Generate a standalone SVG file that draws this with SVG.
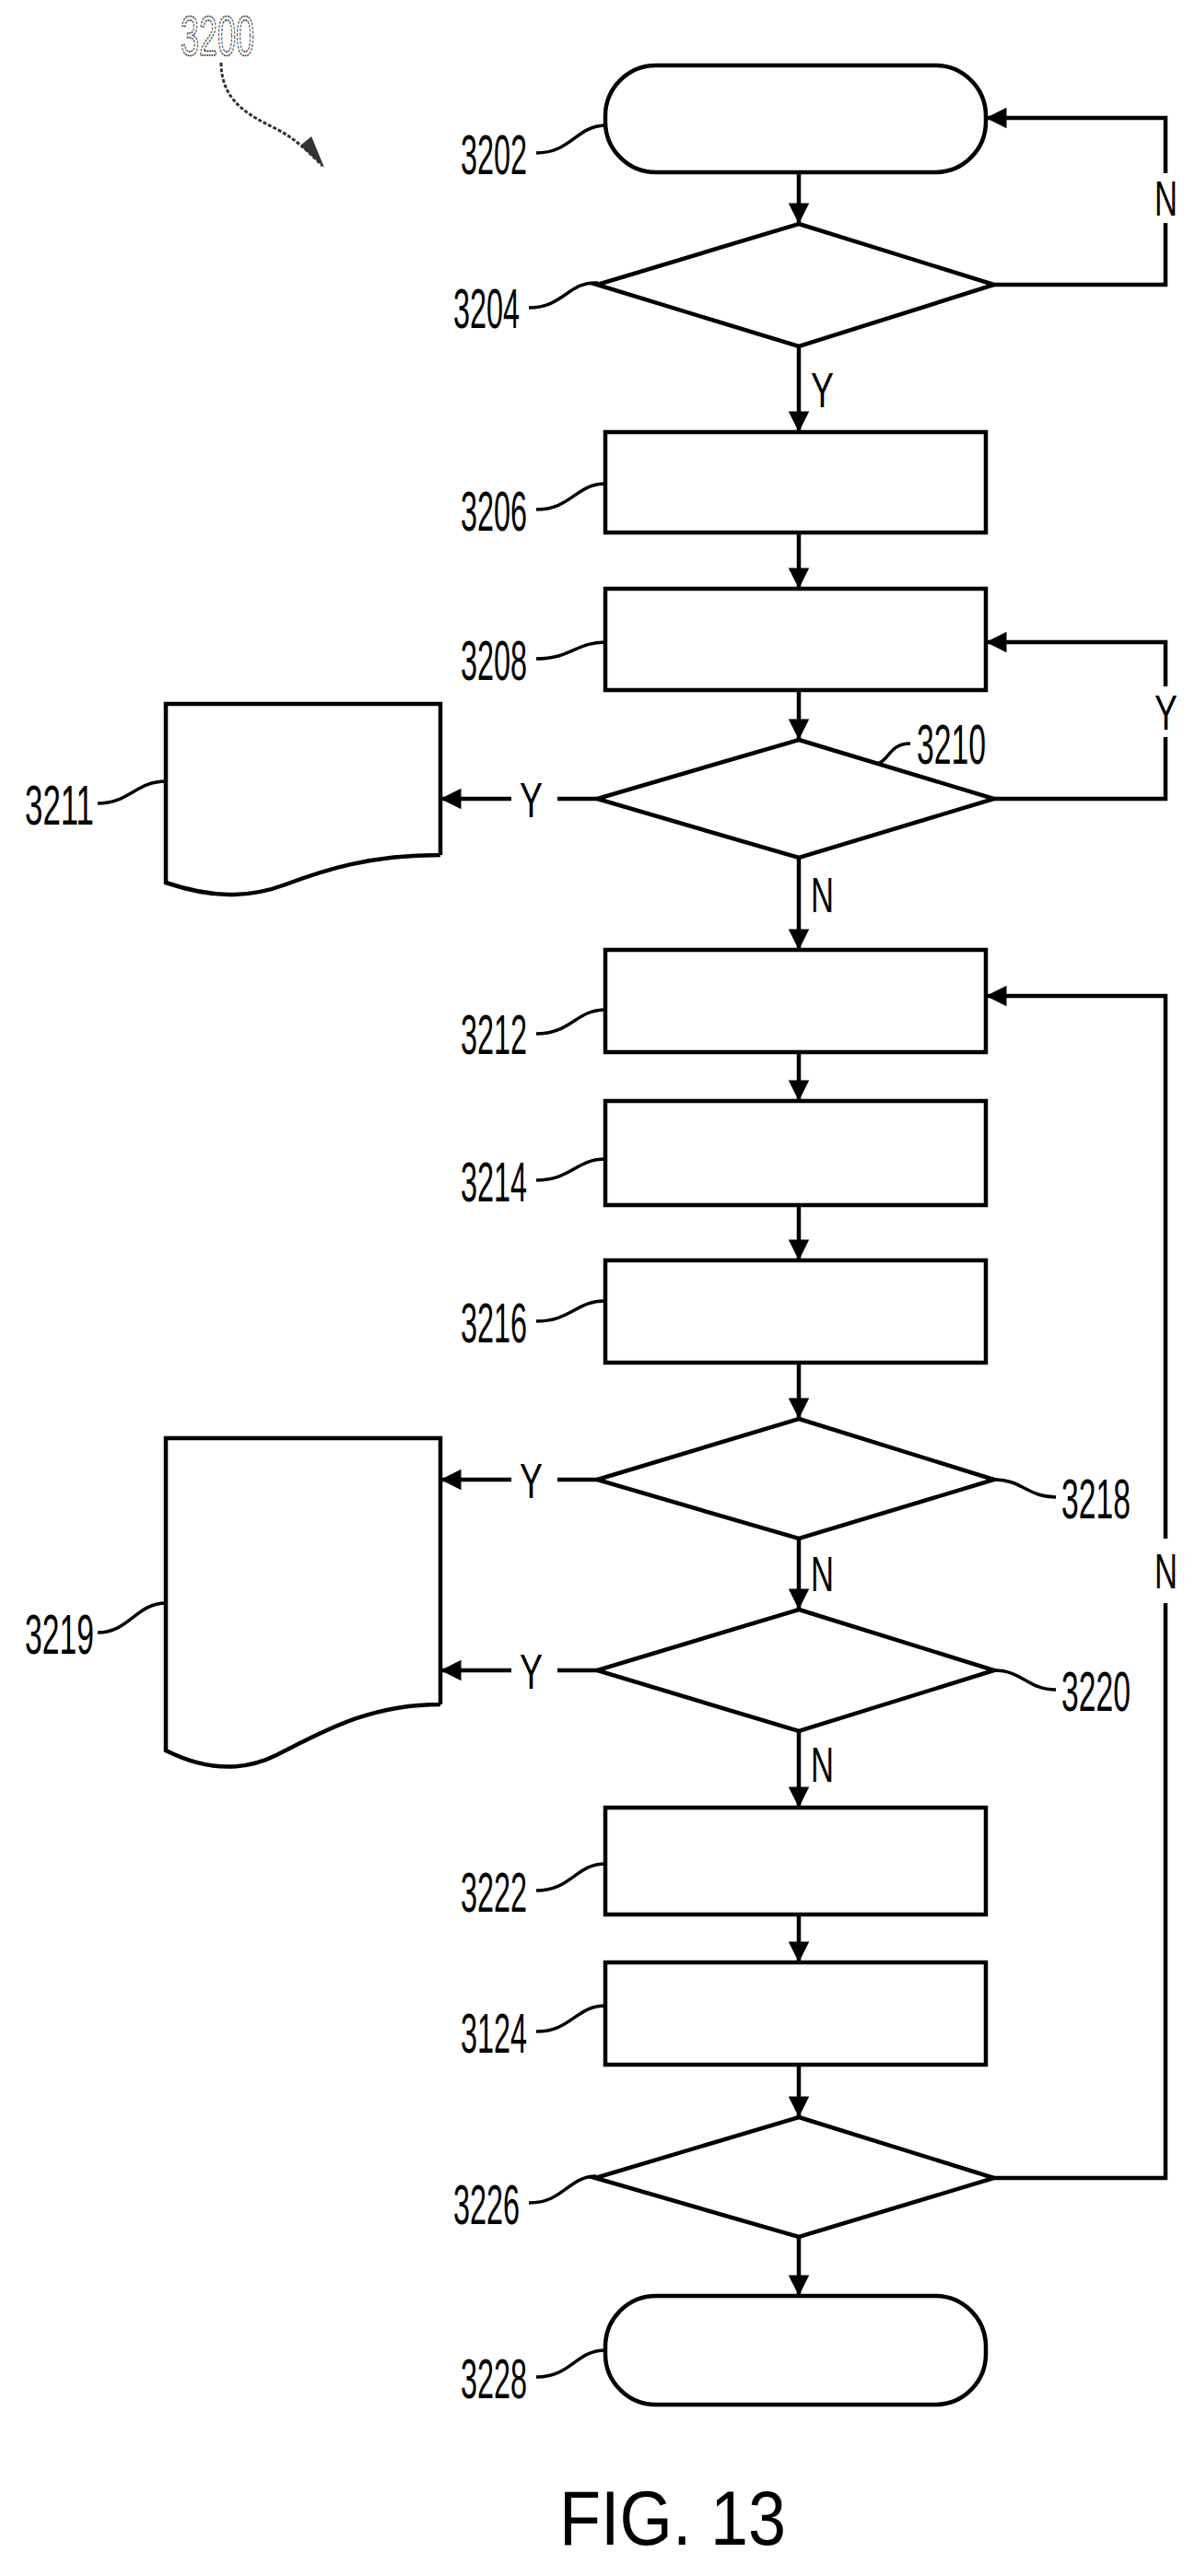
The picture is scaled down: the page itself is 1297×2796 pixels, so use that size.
<svg xmlns="http://www.w3.org/2000/svg" width="1297" height="2796" viewBox="0 0 1297 2796">
<style>
.s{fill:none;stroke:#000;stroke-width:4.5;stroke-linejoin:miter}
.l{fill:none;stroke:#000;stroke-width:3.5}
.t{font-family:"Liberation Sans",Arial,sans-serif;font-size:62px;fill:#000}
.yn{font-family:"Liberation Sans",Arial,sans-serif;font-size:54px;fill:#000}
</style>
<defs>
<marker id="a" viewBox="0 0 10 10" refX="10" refY="5" markerWidth="6" markerHeight="5" markerUnits="strokeWidth" orient="auto"><path d="M0,0L10,5L0,10z" fill="#000"/></marker>
</defs>
<rect width="1297" height="2796" fill="#fff"/>
<g id="n3200">
<text class="t" x="196" y="60" textLength="80" lengthAdjust="spacingAndGlyphs" style="fill:#fff;stroke:#333;stroke-width:1.6;stroke-dasharray:3 1.5">3200</text>
<path d="M240,68 C240,110 270,125 300,140 C320,150 335,165 350,180" fill="none" stroke="#333" stroke-width="3" stroke-dasharray="4 2"/>
<path d="M326,158 L352,182 L338,148 Z" fill="#333"/>
</g>
<g id="n3202"><rect class="s" x="657" y="71" width="413" height="116" rx="55"/><text class="t" x="500" y="189" textLength="72" lengthAdjust="spacingAndGlyphs">3202</text><path class="l" d="M582,166 C620,166 625,137 657,136"/></g>
<g id="n3204"><path class="s" d="M867,243 L1079,309 L867,376 L648,309 Z"/><text class="t" x="492" y="356" textLength="72" lengthAdjust="spacingAndGlyphs">3204</text><path class="l" d="M574,334 C612,334 617,305 649,307"/></g>
<g id="n3206"><rect class="s" x="657" y="469" width="413" height="109"/><text class="t" x="500" y="576" textLength="72" lengthAdjust="spacingAndGlyphs">3206</text><path class="l" d="M582,553 C620,553 625,525 657,525"/></g>
<g id="n3208"><rect class="s" x="657" y="639" width="413" height="110"/><text class="t" x="500" y="738" textLength="72" lengthAdjust="spacingAndGlyphs">3208</text><path class="l" d="M582,715 C620,715 625,697 657,697"/></g>
<g id="n3210"><path class="s" d="M867,803 L1079,867 L867,931 L648,867 Z"/><text class="t" x="995" y="829" textLength="75" lengthAdjust="spacingAndGlyphs">3210</text><path class="l" d="M988,807 C965,807 965,826 952,829"/></g>
<g id="n3211"><path class="s" d="M478,928 V764 H180 V958 C230,975 270,975 310,960 C350,945 400,928 478,928"/><text class="t" x="27" y="895" textLength="75" lengthAdjust="spacingAndGlyphs">3211</text><path class="l" d="M106,872 C140,872 148,848 180,848"/></g>
<g id="n3212"><rect class="s" x="657" y="1031" width="413" height="111"/><text class="t" x="500" y="1144" textLength="72" lengthAdjust="spacingAndGlyphs">3212</text><path class="l" d="M582,1122 C620,1122 625,1096 657,1096"/></g>
<g id="n3214"><rect class="s" x="657" y="1195" width="413" height="113"/><text class="t" x="500" y="1304" textLength="72" lengthAdjust="spacingAndGlyphs">3214</text><path class="l" d="M582,1281 C620,1281 625,1258 657,1258"/></g>
<g id="n3216"><rect class="s" x="657" y="1368" width="413" height="111"/><text class="t" x="500" y="1457" textLength="72" lengthAdjust="spacingAndGlyphs">3216</text><path class="l" d="M582,1434 C620,1434 625,1412 657,1412"/></g>
<g id="n3218"><path class="s" d="M867,1540 L1079,1606 L867,1670 L648,1606 Z"/><text class="t" x="1152" y="1648" textLength="75" lengthAdjust="spacingAndGlyphs">3218</text><path class="l" d="M1079,1606 C1110,1606 1115,1625 1146,1625"/></g>
<g id="n3219"><path class="s" d="M478,1850 V1561 H180 V1900 C220,1920 260,1925 300,1905 C350,1880 400,1850 478,1850"/><text class="t" x="27" y="1795" textLength="75" lengthAdjust="spacingAndGlyphs">3219</text><path class="l" d="M106,1772 C140,1772 148,1740 180,1740"/></g>
<g id="n3220"><path class="s" d="M867,1747 L1079,1813 L867,1879 L648,1813 Z"/><text class="t" x="1152" y="1857" textLength="75" lengthAdjust="spacingAndGlyphs">3220</text><path class="l" d="M1079,1813 C1110,1813 1115,1834 1146,1834"/></g>
<g id="n3222"><rect class="s" x="657" y="1962" width="413" height="116"/><text class="t" x="500" y="2075" textLength="72" lengthAdjust="spacingAndGlyphs">3222</text><path class="l" d="M582,2052 C620,2052 625,2023 657,2023"/></g>
<g id="n3124"><rect class="s" x="657" y="2130" width="413" height="111"/><text class="t" x="500" y="2228" textLength="72" lengthAdjust="spacingAndGlyphs">3124</text><path class="l" d="M582,2205 C620,2205 625,2177 657,2177"/></g>
<g id="n3226"><path class="s" d="M867,2298 L1079,2364 L867,2428 L646,2364 Z"/><text class="t" x="492" y="2414" textLength="72" lengthAdjust="spacingAndGlyphs">3226</text><path class="l" d="M574,2391 C612,2391 617,2362 647,2362"/></g>
<g id="n3228"><rect class="s" x="657" y="2492" width="413" height="118" rx="55"/><text class="t" x="500" y="2603" textLength="72" lengthAdjust="spacingAndGlyphs">3228</text><path class="l" d="M582,2580 C620,2580 625,2551 657,2551"/></g>
<g id="connectors" fill="none" stroke="#000" stroke-width="4.5">
<path d="M867,187 V243" marker-end="url(#a)"/>
<path d="M867,376 V469" marker-end="url(#a)"/>
<path d="M867,578 V639" marker-end="url(#a)"/>
<path d="M867,749 V803" marker-end="url(#a)"/>
<path d="M867,931 V1031" marker-end="url(#a)"/>
<path d="M867,1142 V1195" marker-end="url(#a)"/>
<path d="M867,1308 V1368" marker-end="url(#a)"/>
<path d="M867,1479 V1540" marker-end="url(#a)"/>
<path d="M867,1670 V1747" marker-end="url(#a)"/>
<path d="M867,1879 V1962" marker-end="url(#a)"/>
<path d="M867,2078 V2130" marker-end="url(#a)"/>
<path d="M867,2241 V2298" marker-end="url(#a)"/>
<path d="M867,2428 V2492" marker-end="url(#a)"/>
<path d="M1079,309 H1265 V242"/><path d="M1265,188 V128 H1070" marker-end="url(#a)"/>
<path d="M1079,867 H1265 V800"/><path d="M1265,745 V697 H1070" marker-end="url(#a)"/>
<path d="M1079,2364 H1265 V1740"/><path d="M1265,1670 V1081 H1070" marker-end="url(#a)"/>
<path d="M648,867 H605"/><path d="M555,867 H478" marker-end="url(#a)"/>
<path d="M648,1606 H605"/><path d="M555,1606 H478" marker-end="url(#a)"/>
<path d="M648,1813 H605"/><path d="M555,1813 H478" marker-end="url(#a)"/>
</g>
<g id="labels">
<text class="yn" x="1253" y="234" textLength="25" lengthAdjust="spacingAndGlyphs">N</text>
<text class="yn" x="880" y="442" textLength="25" lengthAdjust="spacingAndGlyphs">Y</text>
<text class="yn" x="1253" y="792" textLength="25" lengthAdjust="spacingAndGlyphs">Y</text>
<text class="yn" x="564" y="887" textLength="25" lengthAdjust="spacingAndGlyphs">Y</text>
<text class="yn" x="880" y="990" textLength="25" lengthAdjust="spacingAndGlyphs">N</text>
<text class="yn" x="564" y="1626" textLength="25" lengthAdjust="spacingAndGlyphs">Y</text>
<text class="yn" x="880" y="1727" textLength="25" lengthAdjust="spacingAndGlyphs">N</text>
<text class="yn" x="1253" y="1724" textLength="25" lengthAdjust="spacingAndGlyphs">N</text>
<text class="yn" x="564" y="1833" textLength="25" lengthAdjust="spacingAndGlyphs">Y</text>
<text class="yn" x="880" y="1934" textLength="25" lengthAdjust="spacingAndGlyphs">N</text>
<text class="t" x="607" y="2762" textLength="246" lengthAdjust="spacingAndGlyphs" style="font-size:84px">FIG. 13</text>
</g>
</svg>
